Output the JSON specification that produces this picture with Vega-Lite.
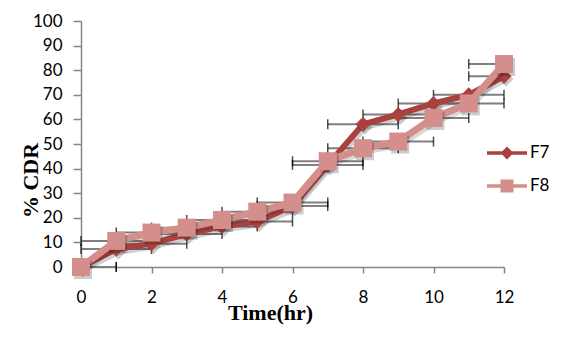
{
  "$schema": "https://vega.github.io/schema/vega-lite/v6.json",
  "width": 423,
  "height": 246,
  "autosize": {"type": "none"},
  "padding": {"left": 81, "top": 21, "right": 79, "bottom": 79},
  "background": "white",
  "config": {"view": {"stroke": null}},
  "data": {"values": [
    {"t": 0, "s": "F7", "v": 0, "lo": 0, "hi": 1},
    {"t": 1, "s": "F7", "v": 7.3, "lo": 0, "hi": 2},
    {"t": 2, "s": "F7", "v": 9.5, "lo": 1, "hi": 3},
    {"t": 3, "s": "F7", "v": 13.4, "lo": 2, "hi": 4},
    {"t": 4, "s": "F7", "v": 16.5, "lo": 3, "hi": 5},
    {"t": 5, "s": "F7", "v": 18.5, "lo": 4, "hi": 6},
    {"t": 6, "s": "F7", "v": 24.8, "lo": 5, "hi": 7},
    {"t": 7, "s": "F7", "v": 41.5, "lo": 6, "hi": 8},
    {"t": 8, "s": "F7", "v": 58, "lo": 7, "hi": 9},
    {"t": 9, "s": "F7", "v": 62, "lo": 8, "hi": 10},
    {"t": 10, "s": "F7", "v": 66.5, "lo": 9, "hi": 11},
    {"t": 11, "s": "F7", "v": 70, "lo": 10, "hi": 12},
    {"t": 12, "s": "F7", "v": 77.5, "lo": 11, "hi": 12},
    {"t": 0, "s": "F8", "v": 0, "lo": 0, "hi": 1},
    {"t": 1, "s": "F8", "v": 10.6, "lo": 0, "hi": 2},
    {"t": 2, "s": "F8", "v": 14, "lo": 1, "hi": 3},
    {"t": 3, "s": "F8", "v": 16, "lo": 2, "hi": 4},
    {"t": 4, "s": "F8", "v": 19.1, "lo": 3, "hi": 5},
    {"t": 5, "s": "F8", "v": 22.5, "lo": 4, "hi": 6},
    {"t": 6, "s": "F8", "v": 26.2, "lo": 5, "hi": 7},
    {"t": 7, "s": "F8", "v": 43, "lo": 6, "hi": 8},
    {"t": 8, "s": "F8", "v": 48.3, "lo": 7, "hi": 9},
    {"t": 9, "s": "F8", "v": 51, "lo": 8, "hi": 10},
    {"t": 10, "s": "F8", "v": 60.6, "lo": 9, "hi": 11},
    {"t": 11, "s": "F8", "v": 66.5, "lo": 10, "hi": 12},
    {"t": 12, "s": "F8", "v": 82.5, "lo": 11, "hi": 12}
  ]},
  "encoding": {
    "x": {"field": "t", "type": "quantitative",
      "scale": {"domain": [0, 12], "nice": false, "zero": false},
      "axis": {
        "values": [0, 2, 4, 6, 8, 10, 12], "grid": false, "labelFlush": false,
        "domainColor": "#868686", "tickColor": "#868686", "tickSize": 6, "domainWidth": 1.5, "tickWidth": 1.5,
        "labelFont": "Lato", "labelFontSize": 17, "labelColor": "#000", "labelPadding": 16,
        "title": "Time(hr)", "titleFont": "Liberation Serif", "titleFontSize": 22, "titleFontWeight": "bold", "titleColor": "#000",
        "titleX": 189, "titleY": 52, "titleBaseline": "alphabetic", "titleAlign": "center"
      }},
    "y": {"field": "v", "type": "quantitative",
      "scale": {"domain": [0, 100], "nice": false},
      "axis": {
        "values": [0, 10, 20, 30, 40, 50, 60, 70, 80, 90, 100], "grid": false, "labelFlush": false,
        "domainColor": "#868686", "tickColor": "#868686", "tickSize": 8, "domainWidth": 1.5, "tickWidth": 1.5,
        "labelFont": "Lato", "labelFontSize": 17, "labelColor": "#000", "labelPadding": 11,
        "title": "% CDR", "titleFont": "Liberation Serif", "titleFontSize": 22, "titleFontWeight": "bold", "titleColor": "#000",
        "titleX": -44, "titleY": 159, "titleAngle": -90, "titleBaseline": "alphabetic", "titleAlign": "center"
      }}
  },
  "layer": [
    {"mark": {"type": "rule", "color": "#7F7F7F", "strokeWidth": 2},
     "encoding": {"x": {"field": "lo", "type": "quantitative"}, "x2": {"field": "hi"}}},
    {"mark": {"type": "tick", "orient": "vertical", "color": "#000", "size": 10, "thickness": 1.5},
     "encoding": {"x": {"field": "lo", "type": "quantitative"}}},
    {"mark": {"type": "tick", "orient": "vertical", "color": "#000", "size": 10, "thickness": 1.5},
     "encoding": {"x": {"field": "hi", "type": "quantitative"}}},
    {"transform": [{"filter": "datum.s === 'F7'"}],
     "mark": {"type": "line", "strokeWidth": 6, "color": "#000", "opacity": 0.18, "xOffset": 2, "yOffset": 3}},
    {"transform": [{"filter": "datum.s === 'F7'"}],
     "mark": {"type": "line", "strokeWidth": 6},
     "encoding": {"color": {"field": "s", "type": "nominal",
        "scale": {"domain": ["F7", "F8"], "range": ["#A9423F", "#D48E8C"]},
        "legend": {
          "orient": "none", "legendX": 416, "legendY": 122, "padding": 0,
          "title": null, "symbolSize": 400, "rowPadding": 15, "labelOffset": 13,
          "labelFont": "Lato", "labelFontSize": 17, "labelColor": "#000",
          "encode": {"symbols": {"update": {
            "shape": {"signal": "datum.value === 'F7' ? 'M-2,-0.17H2V0.17H-2Z M0,-0.65L0.65,0L0,0.65L-0.65,0Z' : 'M-2,-0.17H2V0.17H-2Z M-0.65,-0.65H0.65V0.65H-0.65Z'"},
            "fill": {"scale": "color", "field": "value"},
            "stroke": {"value": "transparent"},
            "strokeWidth": {"value": 0},
            "opacity": {"value": 1},
            "fillOpacity": {"value": 1}
          }}}
        }}}},
    {"transform": [{"filter": "datum.s === 'F7'"}],
     "mark": {"type": "point", "shape": "diamond", "filled": true, "size": 225, "opacity": 0.2, "color": "#000", "xOffset": 2, "yOffset": 3}},
    {"transform": [{"filter": "datum.s === 'F7'"}],
     "mark": {"type": "point", "shape": "diamond", "filled": true, "size": 225, "opacity": 1},
     "encoding": {"color": {"field": "s", "type": "nominal"}}},
    {"transform": [{"filter": "datum.s === 'F8'"}],
     "mark": {"type": "line", "strokeWidth": 7, "color": "#000", "opacity": 0.15, "xOffset": 2, "yOffset": 3}},
    {"transform": [{"filter": "datum.s === 'F8'"}],
     "mark": {"type": "line", "strokeWidth": 7},
     "encoding": {"color": {"field": "s", "type": "nominal"}}},
    {"transform": [{"filter": "datum.s === 'F8'"}],
     "mark": {"type": "point", "shape": "square", "filled": true, "size": 324, "opacity": 0.2, "color": "#000", "xOffset": 2, "yOffset": 3}},
    {"transform": [{"filter": "datum.s === 'F8'"}],
     "mark": {"type": "point", "shape": "square", "filled": true, "size": 324, "opacity": 1},
     "encoding": {"color": {"field": "s", "type": "nominal"}}}
  ]
}
